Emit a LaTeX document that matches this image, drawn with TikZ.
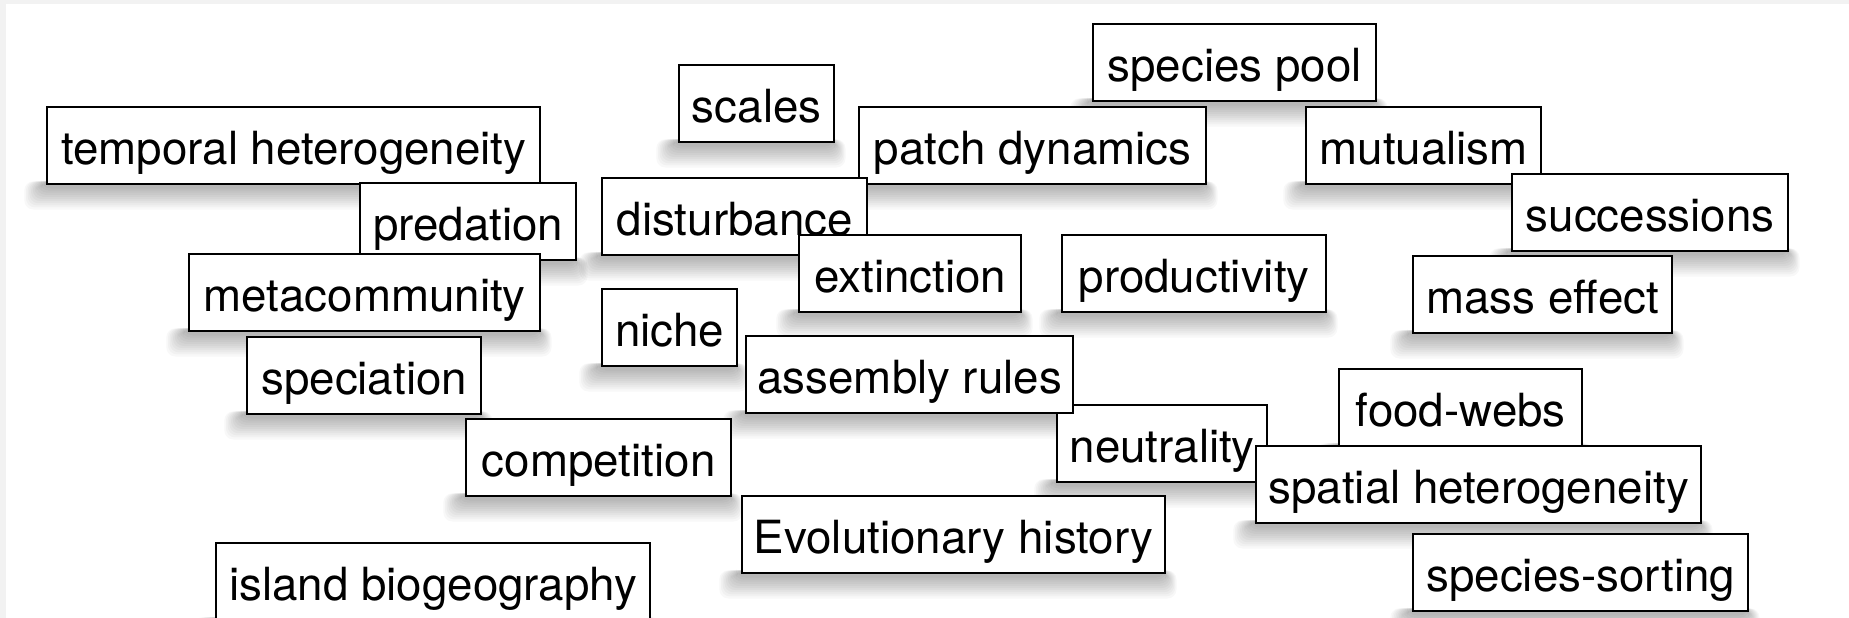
\documentclass[tikz,border=0pt]{standalone}
\usepackage{fontspec}
\setmainfont{TeX Gyre Heros}
\usetikzlibrary{backgrounds}
\tikzset{
  tagbox/.style={draw=black, line width=2.4pt, fill=white, anchor=north west,
    inner xsep=0pt, inner ysep=0pt, text height=57pt, text depth=20pt,
    font=\fontsize{45.7}{50}\selectfont},
  shadowlayer/.style={fill=black, opacity=0.026, rounded corners=9pt},
  edgestrip/.style={fill=black!5, draw=none}
}
\newcommand\tagnode[4]{%
  \node[tagbox, minimum width=#3pt] (#1) at (#2) {#4};
  \begin{pgfonlayer}{background}
    \foreach \i in {1,...,11}
      \path[shadowlayer] ([xshift={-3-1.7*\i}, yshift=4]#1.south west)
        rectangle ([xshift={-2+1.1*\i}, yshift={-1-2.1*\i}]#1.south east);
  \end{pgfonlayer}}
\begin{document}
\begin{tikzpicture}[x=1pt, y=-1pt]
\useasboundingbox (0,0) rectangle (1849,618);
\begin{pgfonlayer}{background}
\fill[white] (0,0) rectangle (1849,618);
\path[edgestrip] (0,0) rectangle (1849,4);
\path[edgestrip] (0,0) rectangle (6,618);
\end{pgfonlayer}
\tagnode{temporal}{46,106}{493}{temporal heterogeneity}
\tagnode{scales}{678,64}{155}{scales}
\tagnode{pool}{1092,23}{283}{species pool}
\tagnode{patch}{858,106}{347}{patch dynamics}
\tagnode{mutualism}{1305,106}{235}{mutualism}
\tagnode{successions}{1511,173}{276}{successions}
\tagnode{predation}{359,182}{216}{predation}
\tagnode{disturbance}{601,177}{265}{disturbance}
\tagnode{extinction}{798,234}{222}{extinction}
\tagnode{productivity}{1061,234}{264}{productivity}
\tagnode{metacommunity}{188,253}{351}{metacommunity}
\tagnode{mass}{1412,255}{259}{mass effect}
\tagnode{niche}{601,288}{135}{niche}
\tagnode{speciation}{246,336}{234}{speciation}
\tagnode{neutrality}{1056,404}{210}{neutrality}
\tagnode{assembly}{745,335}{327}{assembly rules}
\tagnode{foodwebs}{1338,368}{243}{food-webs}
\tagnode{spatial}{1255,445}{445}{spatial heterogeneity}
\tagnode{competition}{465,418}{265}{competition}
\tagnode{evolution}{741,495}{423}{Evolutionary history}
\tagnode{island}{215,542}{434}{island biogeography}
\tagnode{sorting}{1412,533}{335}{species-sorting}
\end{tikzpicture}
\end{document}
